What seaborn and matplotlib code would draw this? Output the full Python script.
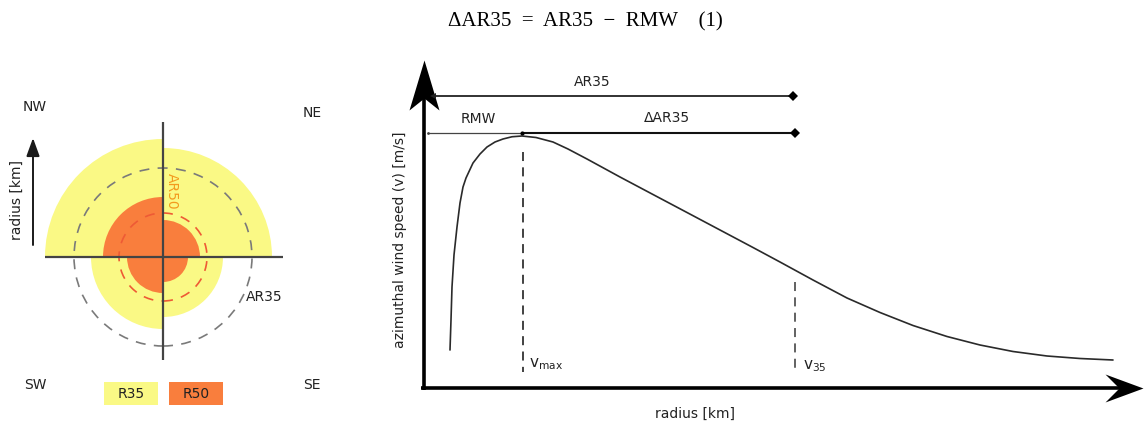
import numpy as np
import pandas as pd
import matplotlib
matplotlib.use("Agg")
import matplotlib.pyplot as plt
import seaborn as sns
from matplotlib.patches import Wedge, Circle, Rectangle
from matplotlib.path import Path

# ---------------- data ----------------
quadrants = ["NE", "NW", "SW", "SE"]
r35_km = [109, 118, 72, 60]      # 35-kt wind radii per quadrant
r50_km = [37, 60, 36, 25]        # 50-kt wind radii per quadrant
ar35_km = 89                     # azimuthal mean radius of 35 kt
ar50_km = 44                     # azimuthal mean radius of 50 kt

radius_km = [13, 13.5, 14, 15, 16.5, 18, 19.5, 21, 24.5, 28, 31.5,
             35.5, 39.5, 44, 49, 56, 64.5, 72, 81.5, 98, 114.5,
             131.5, 148, 164.5, 178, 194.5, 211.5, 228, 244.5, 261.5, 278,
             294.5, 311.5, 328, 344.5]
wind_ms = [7.6, 13.6, 20.2, 26.6, 32.2, 37, 40.2, 42, 45, 46.8, 48.2,
           49.2, 49.8, 50.25, 50.4, 50.1, 49.2, 47.8, 45.8, 42.2, 38.7,
           35.1, 31.6, 28.1, 25.2, 21.6, 18, 15.1, 12.5, 10.3, 8.6,
           7.3, 6.4, 5.9, 5.6]
rmw_km = 49
ar35_profile_km = 185.5

# ---------------- style ----------------
sns.set_theme(style="white")
plt.rcParams["font.family"] = ["DejaVu Sans"]
YELLOW = "#FAF985"
ORANGE = "#F97E3D"
INK = "#1a1a1a"
TXT = "#222222"

fig = plt.figure(figsize=(11.45, 4.26), dpi=100)

# ================= left panel =================
ax1 = fig.add_axes([0, 0, 340 / 1145, 1])
ax1.set_xlim(-163, 177)
ax1.set_ylim(-169, 257)
ax1.axis("off")

angles = {"NE": (0, 90), "NW": (90, 180), "SW": (180, 270), "SE": (270, 360)}
for q, r in zip(quadrants, r35_km):
    a, b = angles[q]
    ax1.add_patch(Wedge((0, 0), r, a, b, facecolor=YELLOW, edgecolor="none"))
for q, r in zip(quadrants, r50_km):
    a, b = angles[q]
    ax1.add_patch(Wedge((0, 0), r, a, b, facecolor=ORANGE, edgecolor="none"))

ax1.add_patch(Circle((0, 0), ar35_km, fill=False, ls=(0, (6, 5)),
                     edgecolor="#7a7a7a", lw=1.2))
ax1.add_patch(Circle((0, 0), ar50_km, fill=False, ls=(0, (6, 5)),
                     edgecolor="#EE5A35", lw=1.2))

ax1.plot([-118, 120], [0, 0], color="#444444", lw=1.6, solid_capstyle="butt")
ax1.plot([0, 0], [135, -103], color="#444444", lw=1.6, solid_capstyle="butt")

for lab, (x, y) in {"NW": (-128, 150), "NE": (149, 144),
                    "SW": (-128, -128), "SE": (149, -128)}.items():
    ax1.text(x, y, lab, ha="center", va="center", fontsize=10, color=TXT)

ax1.text(9, 66, "AR50", rotation=-90, ha="center", va="center",
         fontsize=10, color="#F39A1E")
ax1.text(101, -40, "AR35", ha="center", va="center", fontsize=10, color=TXT)

for lab, col, x0 in [("R35", YELLOW, -59), ("R50", ORANGE, 6)]:
    ax1.add_patch(Rectangle((x0, -148), 54, 23, facecolor=col, edgecolor="none"))
    ax1.text(x0 + 27, -136.5, lab, ha="center", va="center", fontsize=10, color=TXT)

ax1.annotate("", xy=(-130, 119), xytext=(-130, 12),
             arrowprops=dict(arrowstyle="-|>,head_length=1.1,head_width=0.4",
                             color=INK, lw=1.4, mutation_scale=10,
                             shrinkA=0, shrinkB=0))
ax1.text(-146, 57, "radius [km]", rotation=90, ha="center", va="center",
         fontsize=10, color=TXT)

# ================= right panel =================
ax2 = fig.add_axes([340 / 1145, 0, 805 / 1145, 1])
ax2.set_xlim(-42, 360.5)
ax2.set_ylim(-7.6, 77.6)
ax2.axis("off")

df = pd.DataFrame({"radius": radius_km, "wind": wind_ms})
sns.lineplot(data=df, x="radius", y="wind", ax=ax2, color="#2a2a2a", lw=1.2,
             sort=False, estimator=None)

# axes arrows
x_end = 359.5
y_end = 65.6
ax2.plot([-1.5, x_end - 8], [0, 0], color="black", lw=2.6, solid_capstyle="butt")
ax2.plot([0, 0], [-0.3, y_end - 4], color="black", lw=2.6, solid_capstyle="butt")
up_head = Path([(0, 0), (15, -50), (0, -38), (-15, -50), (0, 0)],
               [Path.MOVETO, Path.LINETO, Path.LINETO, Path.LINETO, Path.CLOSEPOLY])
right_head = Path([(0, 0), (-38, 14), (-24, 0), (-38, -14), (0, 0)],
                  [Path.MOVETO, Path.LINETO, Path.LINETO, Path.LINETO, Path.CLOSEPOLY])
ax2.plot([0], [y_end], marker=up_head, ms=72, color="black", mew=0, clip_on=False)
ax2.plot([x_end], [0], marker=right_head, ms=54.7, color="black", mew=0, clip_on=False)

# dashed verticals
ax2.plot([rmw_km + 0.5] * 2, [47.2, 3.2], color="#333333", lw=1.3, ls=(0, (5, 3.5)))
ax2.plot([ar35_profile_km] * 2, [21.2, 3.2], color="#555555", lw=1.3, ls=(0, (5, 3.5)))

# AR35 bracket
y_ar = 58.4
ax2.plot([4.5, ar35_profile_km - 1], [y_ar, y_ar], color="#222222", lw=1.3)
ax2.plot([4.5], [y_ar], marker="<", ms=4, color="#222222", mew=0)
ax2.plot([ar35_profile_km - 1], [y_ar], marker="D", ms=5, color="black", mew=0)
ax2.text(84, 61.2, "AR35", ha="center", va="center", fontsize=10, color=TXT)

# RMW / dAR35 bracket
y_r = 51
ax2.plot([2, rmw_km], [y_r, y_r], color="#444444", lw=0.9)
ax2.plot([rmw_km, ar35_profile_km], [y_r, y_r], color="#111111", lw=1.5)
ax2.plot([2], [y_r], marker="o", ms=2, color="#444444", mew=0)
ax2.plot([rmw_km], [y_r], marker="o", ms=3, color="black", mew=0)
ax2.plot([ar35_profile_km], [y_r], marker="D", ms=5, color="black", mew=0)
ax2.text(27, 53.8, "RMW", ha="center", va="center", fontsize=10, color=TXT)
ax2.text(121.5, 54, "\u0394AR35", ha="center", va="center", fontsize=10, color=TXT)

ax2.text(rmw_km + 3.5, 4.8, r"$\mathregular{v_{max}}$", ha="left", va="center",
         fontsize=11, color=TXT)
ax2.text(ar35_profile_km + 4, 4.4, r"$\mathregular{v_{35}}$", ha="left", va="center",
         fontsize=11, color=TXT)

ax2.text(135.5, -5.2, "radius [km]", ha="center", va="center", fontsize=10, color=TXT)
ax2.text(-12, 29.6, "azimuthal wind speed (v) [m/s]", rotation=90,
         ha="center", va="center", fontsize=10, color=TXT)

# title / equation
fig.text(585 / 1145, 1 - 22 / 426, "\u0394AR35  =  AR35  \u2212  RMW    (1)",
         ha="center", va="center", fontsize=15, color="black",
         family=["Liberation Serif", "DejaVu Serif"])

fig.savefig("out.png", dpi=100)
